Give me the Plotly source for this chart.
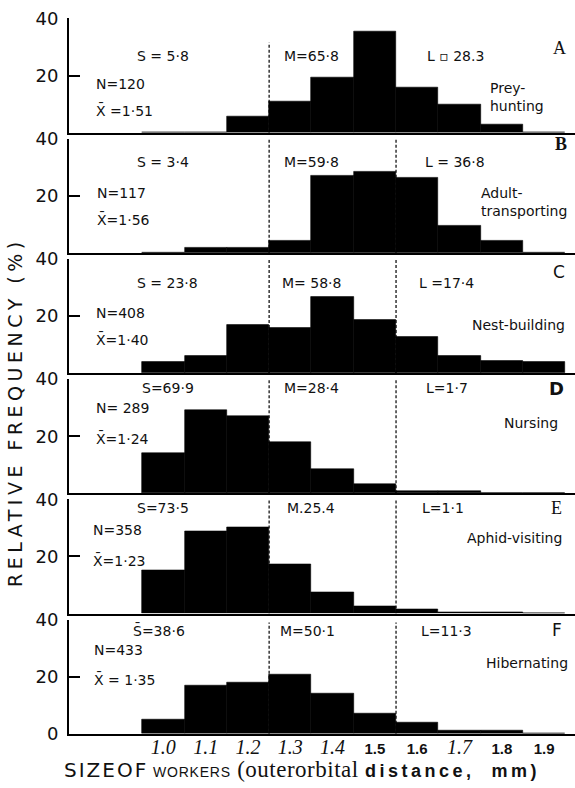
import plotly.graph_objects as go

# ---------------- data ----------------
bins = [1.0, 1.1, 1.2, 1.3, 1.4, 1.5, 1.6, 1.7, 1.8, 1.9]
tick_labels = ["1.0", "1.1", "1.2", "1.3", "1.4", "1.5", "1.6", "1.7", "1.8", "1.9"]

prey_hunting = [0, 0, 5.8, 10.8, 19.3, 35.4, 15.9, 9.8, 2.8, 0]
adult_transporting = [0, 1.7, 1.7, 4.1, 26.9, 28.3, 26.5, 9.6, 4.1, 0]
nest_building = [3.8, 5.9, 16.9, 15.9, 26.6, 18.6, 12.8, 5.9, 4.1, 3.8]
nursing = [14.0, 29.0, 27.0, 17.9, 8.4, 3.2, 0.9, 0.9, 0, 0]
aphid_visiting = [15.3, 28.9, 30.3, 17.1, 7.3, 2.4, 1.4, 0.3, 0.3, 0]
hibernating = [4.9, 16.8, 17.9, 20.7, 14.0, 7.0, 3.9, 1.1, 1.1, 0]

panel_letters = ["A", "B", "C", "D", "E", "F"]
activity_labels = ["Prey-<br>hunting", "Adult-<br>transporting", "Nest-building",
                   "Nursing", "Aphid-visiting", "Hibernating"]
s_labels = ["S = 5·8", "S = 3·4", "S = 23·8", "S=69·9", "S=73·5", "S̄=38·6"]
m_labels = ["M=65·8", "M=59·8", "M= 58·8", "M=28·4", "M.25.4", "M=50·1"]
l_labels = ["L ▫ 28.3", "L = 36·8", "L =17·4", "L=1·7", "L=1·1", "L=11·3"]
n_labels = ["N=120", "N=117", "N=408", "N= 289", "N=358", "N=433"]
mean_labels = ["X̄ =1·51", "X̄=1·56", "X̄=1·40", "X̄=1·24", "X̄=1·23", "X̄ = 1·35"]
class_borders = [1.25, 1.55]

series = [prey_hunting, adult_transporting, nest_building, nursing, aphid_visiting, hibernating]

# ---------------- layout geometry ----------------
W, H = 575, 788
AX_LEFT_PX = 69
X_RANGE = [0.777, 1.973]
PANEL_TOP0, PANEL_STEP, PANEL_H = 7.7, 123.5, 117.3

SANS = "DejaVu Sans"
SERIF = "Liberation Serif"
ARIAL = "Liberation Sans"
INK = "#111111"

# text placement (in data units of each panel)
s_pos = [(1.00, 26.7), (1.00, 32.0), (1.01, 31.6), (1.01, 36.8), (1.00, 36.8), (0.99, 36.1)]
m_pos = [(1.35, 26.7), (1.35, 32.0), (1.35, 31.6), (1.35, 36.8), (1.35, 36.8), (1.34, 36.1)]
l_pos = [(1.69, 26.7), (1.69, 32.0), (1.67, 31.6), (1.67, 36.8), (1.66, 36.8), (1.67, 36.1)]
n_pos = [(0.836, 17.2), (0.838, 21.0), (0.836, 21.0), (0.836, 29.8), (0.828, 29.1), (0.832, 29.5)]
x_pos = [(0.836, 7.7), (0.838, 11.6), (0.836, 11.6), (0.836, 19.3), (0.828, 18.6), (0.832, 18.9)]
act_pos = [(1.768, 12.5, "left"), (1.745, 18.0, "left"), (1.84, 16.8, "center"),
           (1.87, 24.6, "center"), (1.83, 26.3, "center"), (1.86, 24.6, "center")]
letter_pos = [(1.936, 29.5), (1.94, 38.0), (1.935, 35.5), (1.93, 36.8), (1.93, 36.8), (1.93, 36.5)]
letter_fonts = [(SERIF, 18, False), (SERIF, 18, True), (SANS, 17, False),
                (SANS, 18, True), (SERIF, 18, False), (SANS, 17, False)]
dash_tops = [[31.6, 0], [40, 40], [40, 40], [40, 40], [40, 40], [39, 39]]

fig = go.Figure()
layout = dict(
    width=W, height=H,
    margin=dict(l=0, r=0, t=0, b=0),
    paper_bgcolor="white", plot_bgcolor="white",
    showlegend=False, bargap=0,
    font=dict(family=SANS, color=INK, size=14),
)
annotations = []
shapes = []
TXT = dict(family=SANS, size=14, color=INK)

for k in range(6):
    sfx = "" if k == 0 else str(k + 1)
    xa, ya = "x" + sfx, "y" + sfx
    top_px = PANEL_TOP0 + PANEL_STEP * k
    bot_px = top_px + PANEL_H
    fig.add_trace(go.Bar(
        x=bins, y=series[k], xaxis=xa, yaxis=ya, width=0.1,
        marker=dict(color="black", line=dict(color="black", width=0.6)),
        hoverinfo="skip",
    ))
    last = (k == 5)
    layout["xaxis" + sfx] = dict(
        domain=[AX_LEFT_PX / W, 1], range=X_RANGE, anchor=ya,
        showline=True, linewidth=2, linecolor="black",
        showgrid=False, zeroline=False, ticks="",
        showticklabels=last, fixedrange=True,
    )
    if last:
        tt = []
        for v, lab in zip(bins, tick_labels):
            if lab in ("1.5", "1.6", "1.8", "1.9"):
                tt.append(f"<b>{lab}</b>")
            else:
                tt.append(f"<i><span style=\"font-family:{SERIF};font-size:20px\">{lab}</span></i>")
        layout["xaxis" + sfx].update(
            tickvals=bins, ticktext=tt, ticklabelstandoff=0,
            tickfont=dict(family=ARIAL, size=15, color=INK),
        )
    layout["yaxis" + sfx] = dict(
        domain=[1 - bot_px / H, 1 - top_px / H], range=[0, 40], anchor=xa,
        showline=True, linewidth=2, linecolor="black",
        showgrid=False, zeroline=False,
        tickvals=[0, 20, 40] if last else [20, 40],
        ticktext=["0", "20", "40"] if last else ["20", "40"],
        ticks="inside", ticklen=11, tickwidth=1.5, tickcolor="black",
        ticklabelstandoff=5,
        tickfont=dict(family=SANS, size=18, color=INK), fixedrange=True,
    )

    def add(x, y, text, anchor="center", font=None):
        annotations.append(dict(
            x=x, y=y, xref=xa, yref=ya, text=text, showarrow=False,
            xanchor=anchor, yanchor="middle",
            font=font or TXT,
        ))

    add(*s_pos[k], s_labels[k])
    add(*m_pos[k], m_labels[k])
    add(*l_pos[k], l_labels[k])
    add(*n_pos[k], n_labels[k], anchor="left")
    add(*x_pos[k], mean_labels[k], anchor="left")
    ax_, ay_, aa_ = act_pos[k]
    annotations.append(dict(
        x=ax_, y=ay_, xref=xa, yref=ya, text=activity_labels[k], showarrow=False,
        xanchor=aa_, yanchor="middle", align="left", font=TXT,
    ))
    fam, size, bold = letter_fonts[k]
    lt = f"<b>{panel_letters[k]}</b>" if bold else panel_letters[k]
    add(*letter_pos[k], lt, font=dict(family=fam, size=size, color=INK))

    for xb, yt in zip(class_borders, dash_tops[k]):
        if yt > 0:
            shapes.append(dict(
                type="line", xref=xa, yref=ya, x0=xb, x1=xb, y0=0, y1=yt,
                line=dict(color="black", width=1.2, dash="3px,2px"), layer="below",
            ))

# axis titles
annotations.append(dict(
    x=15 / W, y=1 - 412 / H, xref="paper", yref="paper",
    text="<span style=\"letter-spacing:4.5px\">RELATIVE FREQUENCY (%)</span>",
    textangle=-90, showarrow=False,
    font=dict(family=SANS, size=19, color=INK), xanchor="center", yanchor="middle",
))
annotations.append(dict(
    x=302 / W, y=1 - 779 / H, xref="paper", yref="paper", showarrow=False,
    xanchor="center", yanchor="middle",
    text=(f"<span style=\"font-family:{SANS};font-size:20px;letter-spacing:2px\">SIZEOF</span> "
          f"<span style=\"font-family:{ARIAL};font-size:14px;letter-spacing:0.8px\">WORKERS</span>"
          f"<span style=\"font-family:{SERIF};font-size:23px;letter-spacing:0.5px\"> (outerorbital </span>"
          f"<b><span style=\"font-family:{ARIAL};font-size:18px;letter-spacing:3.5px\">distance,\u00a0\u00a0mm)</span></b>"),
    font=dict(family=SANS, size=15, color=INK),
))

layout["annotations"] = annotations
layout["shapes"] = shapes
fig.update_layout(**layout)
fig.write_html(
    "out.html",
    config={"displayModeBar": False},
    post_script="document.body.style.margin='0';document.body.style.overflow='hidden';",
)
